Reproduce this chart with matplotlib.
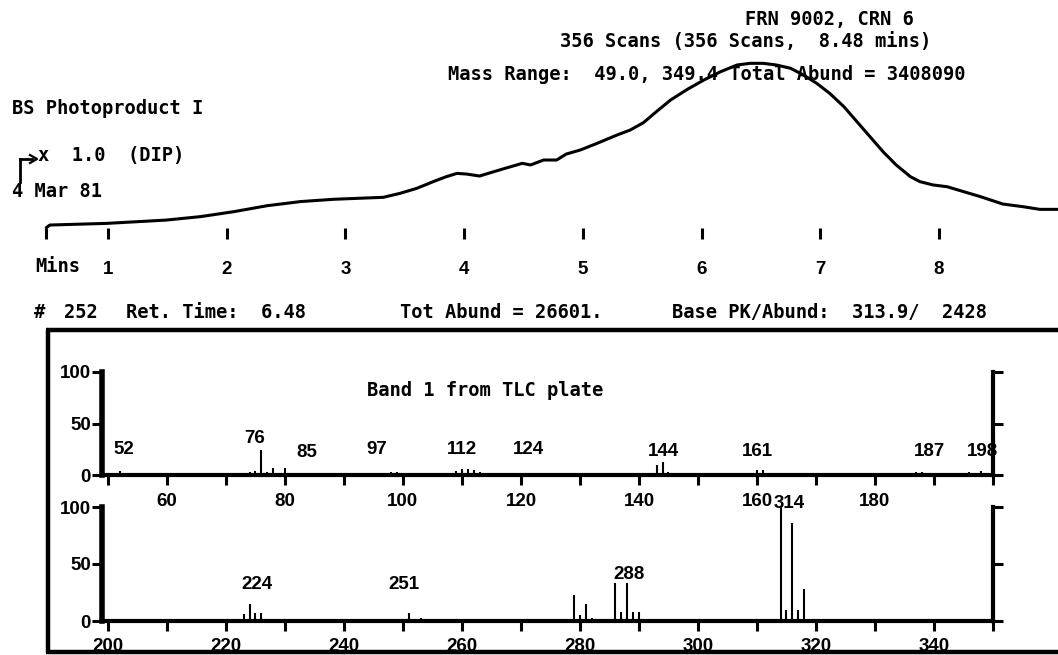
import matplotlib
matplotlib.use('Agg')
import matplotlib.pyplot as plt
from matplotlib.lines import Line2D
from matplotlib.ticker import MultipleLocator

W, H = 1058, 655

# ---------------- data ----------------
# total ion chromatogram (minutes, % of max)
tic_time = [0.48, 0.51, 0.99, 1.49, 1.78, 2.06, 2.34, 2.62, 2.90, 3.32, 3.46, 3.60,
            3.74, 3.85, 3.94, 4.02, 4.13, 4.30, 4.49, 4.56, 4.67, 4.78, 4.86, 4.98,
            5.12, 5.29, 5.40, 5.51, 5.62, 5.74, 5.88, 6.02, 6.16, 6.30, 6.41, 6.52,
            6.63, 6.75, 6.86, 6.97, 7.08, 7.20, 7.31, 7.42, 7.53, 7.64, 7.76, 7.84,
            7.95, 8.07, 8.21, 8.35, 8.54, 8.71, 8.85, 8.96, 9.00]
tic_abund = [0.2, 1.8, 2.8, 4.8, 6.9, 9.9, 13.5, 16.0, 17.4, 18.6, 21.0, 24.0,
             28.1, 31.1, 33.1, 32.7, 31.5, 35.2, 39.2, 38.2, 41.2, 41.2, 44.8, 47.3,
             51.3, 56.4, 59.4, 63.8, 70.5, 77.6, 84.0, 89.7, 94.7, 98.8, 99.8, 99.8,
             98.8, 96.8, 92.7, 87.7, 81.6, 73.5, 64.4, 55.3, 46.2, 38.2, 31.1, 28.1,
             26.1, 25.0, 22.0, 19.0, 14.5, 12.9, 11.3, 11.3, 11.3]
tic_start = 0.48
minute_ticks = [1, 2, 3, 4, 5, 6, 7, 8]

# mass spectrum, m/z 49-200
low_mz = [52, 59, 66, 69, 74, 75, 76, 77, 78, 80, 83, 85, 86, 87, 97, 98, 99,
          109, 110, 111, 112, 113, 143, 144, 145, 149, 158, 160, 161, 187, 188, 196, 198]
low_ab = [4, 1.5, 2, 2, 3, 4, 24, 3, 7, 7, 2, 2, 2, 1.5, 2, 2.5, 3,
          4, 6, 6, 5, 3, 10, 13, 3, 2, 2, 5, 5, 3, 3, 3, 4]
low_label_txt = ['52', '76', '85', '97', '112', '124', '144', '161', '187', '198']
low_label_x = [52.7, 74.9, 83.7, 95.6, 110.0, 121.2, 144.1, 160.0, 189.3, 198.3]
low_label_y = [25, 35, 22, 25, 25, 25, 23, 23, 23, 23]

# mass spectrum, m/z 199-350
high_mz = [223, 224, 225, 226, 251, 253, 279, 280, 281, 282, 286, 287, 288, 289, 290,
           314, 315, 316, 317, 318]
high_ab = [6, 15, 7, 7, 7, 3, 23, 5, 15, 3, 33, 8, 33, 8, 8,
           100, 10, 86, 10, 28]
high_label_txt = ['224', '251', '288', '314']
high_label_x = [225.3, 250.2, 288.3, 315.4]
high_label_y = [31.6, 32, 41, 103.5]

MONO = dict(family='DejaVu Sans Mono', weight='bold', size=13.5)
SANS = dict(family='Liberation Sans', weight='bold', size=13.5)

fig = plt.figure(figsize=(W / 100, H / 100), dpi=100)


def fx(x):
    return x / W


def fy(y):
    return 1 - y / H


def ftext(x, y, s, **kw):
    d = dict(MONO)
    d.update(kw)
    fig.text(fx(x), fy(y), s, va='center', ha='left', **d)


# ---------------- header texts ----------------
ftext(745, 20, 'FRN 9002, CRN 6')
ftext(560, 42, '356 Scans (356 Scans,  8.48 mins)')
ftext(448, 75, 'Mass Range:  49.0, 349.4 Total Abund = 3408090')
ftext(12, 108, 'BS Photoproduct I')
ftext(38, 155, 'x  1.0  (DIP)')
ftext(12, 192, '4 Mar 81')
ftext(35, 267, 'Mins')
ftext(34, 312, '#')
ftext(64, 312, '252')
ftext(126, 312, 'Ret. Time:  6.48')
ftext(400, 312, 'Tot Abund = 26601.')
ftext(672, 312, 'Base PK/Abund:  313.9/  2428')

# arrow near "x 1.0"
fig.add_artist(Line2D([fx(20), fx(20)], [fy(182), fy(159)], color='black', lw=2))
fig.add_artist(Line2D([fx(20), fx(32)], [fy(159), fy(159)], color='black', lw=2))
fig.add_artist(Line2D([fx(30), fx(37), fx(30)], [fy(155), fy(159), fy(163)],
                      color='black', lw=1.6))

# ---------------- TIC ----------------
ax0 = fig.add_axes([0, fy(228), 1, (228 - 63) / H])
ax0.patch.set_visible(False)
ax0.plot(tic_time, tic_abund, color='black', lw=2.2, clip_on=False,
         solid_capstyle='round', solid_joinstyle='round')
ax0.set_xlim(1 - 108 / 118.7, 1 + 950 / 118.7)
ax0.set_ylim(0, 100)
for s in ax0.spines.values():
    s.set_visible(False)
ax0.set_yticks([])
ax0.set_xticks([tic_start] + minute_ticks)
ax0.set_xticklabels([''] + [str(m) for m in minute_ticks], **SANS)
ax0.tick_params(axis='x', direction='out', length=8, width=2.2, pad=16)

# ---------------- box ----------------
for xs, ys in [([48, 48], [330, 653]), ([46, 1058], [330, 330]), ([46, 1058], [652, 652])]:
    fig.add_artist(Line2D([fx(v) for v in xs], [fy(v) for v in ys],
                          color='black', lw=3.2, solid_capstyle='butt'))

ftext(367, 390, 'Band 1 from TLC plate')


def spectrum(top, bottom, mz, ab, xlim, major, lab_txt, lab_x, lab_y, pad):
    ax = fig.add_axes([fx(102), fy(bottom), (993 - 102) / W, (bottom - top) / H])
    ax.patch.set_visible(False)
    ax.vlines(mz, 0, ab, color='black', lw=1.5)
    ax.set_xlim(*xlim)
    ax.set_ylim(0, 100)
    ax.spines['top'].set_visible(False)
    ax.spines['left'].set_linewidth(4)
    ax.spines['right'].set_linewidth(3)
    ax.spines['bottom'].set_linewidth(3)
    ax.set_yticks([0, 50, 100])
    ax.set_yticklabels(['0', '50', '100'], **SANS)
    ax.tick_params(axis='y', direction='out', length=7, width=2.2, pad=1,
                   right=True, labelright=False)
    ax.set_xticks(major)
    ax.set_xticklabels([str(v) for v in major], **SANS)
    ax.xaxis.set_minor_locator(MultipleLocator(10))
    ax.tick_params(axis='x', which='both', direction='out', length=7, width=2.2,
                   pad=pad)
    for t, x, y in zip(lab_txt, lab_x, lab_y):
        ax.text(x, y, t, ha='center', va='center', clip_on=False, **SANS)
    return ax


spectrum(372, 475, low_mz, low_ab, (49, 200), [60, 80, 100, 120, 140, 160, 180],
         low_label_txt, low_label_x, low_label_y, 6)
spectrum(507, 621, high_mz, high_ab, (199, 350), [200, 220, 240, 260, 280, 300, 320, 340],
         high_label_txt, high_label_x, high_label_y, 5)

fig.savefig('out.png', dpi=100)
